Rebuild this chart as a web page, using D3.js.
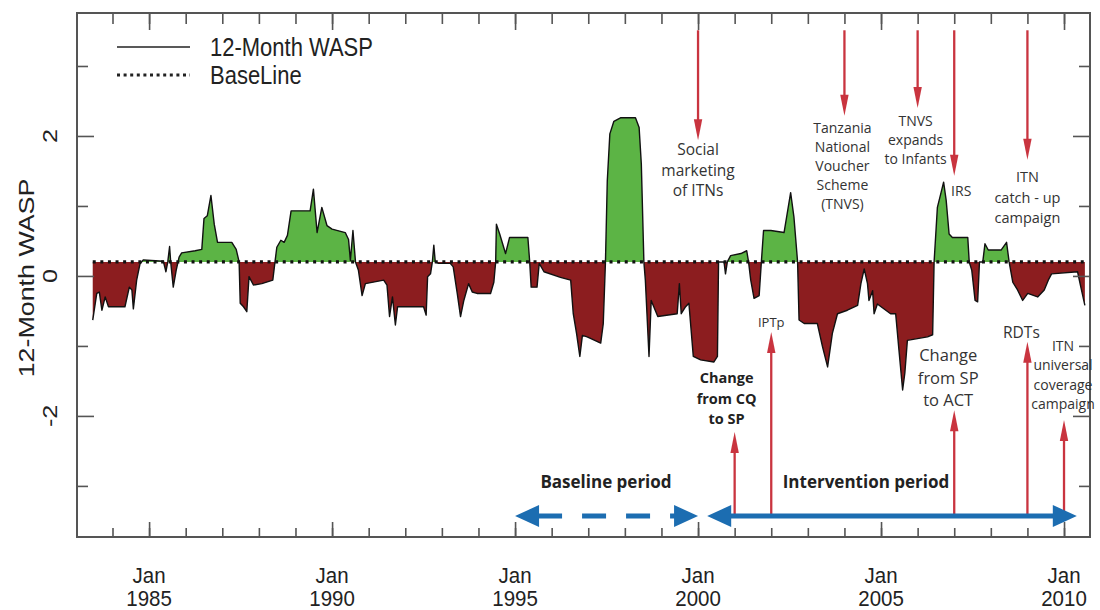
<!DOCTYPE html>
<html><head><meta charset="utf-8">
<script src="https://cdn.jsdelivr.net/npm/d3@7"></script>
<style>body{margin:0;background:#fff}svg{display:block}</style>
</head><body>
<svg id="c" width="1100" height="610"></svg>
<script>
// ---------------- DATA ----------------
const months = [1983.46,1983.57,1983.64,1983.71,1983.80,1983.89,1984.34,1984.46,1984.53,1984.57,1984.66,1984.75,1984.84,
1985.39,1985.46,1985.51,1985.56,1985.59,1985.66,1985.74,1985.82,1985.89,1986.26,1986.44,1986.50,1986.59,1986.69,1986.78,1986.87,
1987.26,1987.38,1987.46,1987.49,1987.58,1987.67,1987.73,1987.85,1988.08,1988.38,1988.44,1988.49,1988.60,1988.69,1988.78,1988.88,
1989.40,1989.49,1989.59,1989.72,1989.86,1990.00,1990.36,1990.45,1990.50,1990.57,1990.64,1990.72,1990.82,1990.91,
1991.41,1991.50,1991.57,1991.65,1991.73,1991.79,1992.50,1992.57,1992.61,1992.69,1992.74,1992.78,1992.82,1992.91,
1993.23,1993.31,1993.42,1993.51,1993.60,1993.73,1993.83,1993.96,1994.33,1994.42,1994.47,1994.49,1994.58,1994.74,1994.85,
1995.35,1995.40,1995.44,1995.60,1995.66,1995.79,1996.24,1996.52,1996.59,1996.68,1996.77,1996.84,1996.97,
1997.34,1997.41,1997.47,1997.52,1997.59,1997.70,1997.88,1998.29,1998.39,1998.45,1998.52,1998.56,1998.66,1998.72,1998.79,1998.90,
1999.43,1999.49,1999.54,1999.66,1999.75,1999.87,2000.07,2000.43,2000.53,2000.56,2000.71,2000.75,2000.80,2000.89,
2001.17,2001.33,2001.38,2001.44,2001.53,2001.67,2001.73,2001.79,2001.99,2002.35,2002.42,2002.53,2002.62,2002.72,2002.76,2002.90,
2003.26,2003.40,2003.54,2003.67,2003.81,2004.08,2004.36,2004.45,2004.54,2004.63,2004.67,2004.77,2004.81,2004.90,
2005.26,2005.40,2005.49,2005.59,2005.65,2005.72,2006.27,2006.41,2006.45,2006.54,2006.64,2006.71,2006.78,2006.86,2006.95,
2007.37,2007.41,2007.48,2007.57,2007.64,2007.69,2007.78,2007.84,2007.93,2008.28,2008.43,2008.50,2008.60,2008.73,2008.87,
2009.01,2009.28,2009.46,2009.57,2009.66,2010.37,2010.46,2010.57];
const wasp = [-0.63,-0.25,-0.23,-0.49,-0.30,-0.44,-0.44,-0.16,-0.20,-0.47,-0.06,0.17,0.23,
0.21,0.06,0.20,0.42,0.20,-0.16,0.08,0.27,0.33,0.36,0.38,0.82,0.86,1.15,0.74,0.48,
0.48,0.38,0.20,-0.39,-0.44,-0.51,-0.01,-0.13,-0.11,-0.06,0.20,0.41,0.51,0.48,0.58,0.93,
0.93,1.24,0.62,0.98,0.72,0.67,0.62,0.52,0.22,0.65,0.20,0.08,-0.28,-0.11,
-0.06,-0.13,-0.58,-0.30,-0.70,-0.44,-0.44,-0.56,-0.01,0.03,0.20,0.44,0.20,0.18,
0.18,0.13,-0.25,-0.58,-0.35,-0.11,-0.23,-0.25,-0.25,-0.09,0.20,0.74,0.60,0.32,0.55,
0.55,0.20,-0.16,-0.16,0.18,0.06,-0.02,-0.06,-0.54,-0.82,-1.15,-0.85,-0.87,
-0.96,-0.68,0.20,1.36,2.03,2.21,2.26,2.26,2.12,1.60,0.20,-0.06,-1.15,-0.35,-0.44,-0.58,
-0.54,-0.11,-0.54,-0.44,-0.39,-1.15,-1.20,-1.23,-1.15,0.20,0.20,0.03,0.20,0.29,
0.32,0.36,0.20,-0.06,-0.32,-0.28,0.20,0.65,0.65,0.62,0.84,1.19,0.84,0.20,-0.63,-0.68,
-0.68,-1.01,-1.30,-0.82,-0.54,-0.49,-0.42,-0.11,0.10,-0.11,-0.35,-0.21,-0.54,-0.40,
-0.54,-0.54,-1.06,-1.63,-1.39,-0.92,-0.87,-0.84,0.20,0.98,1.19,1.34,1.08,0.60,0.55,
0.55,0.20,0.08,-0.35,-0.37,0.20,0.20,0.46,0.37,0.37,0.48,0.20,-0.09,-0.20,-0.35,
-0.25,-0.30,-0.20,-0.06,0.03,0.06,-0.16,-0.42];
const baselineValue = 0.2;
const xMajorYears = [1985,1990,1995,2000,2005,2010];
const xMinorYears = d3.range(1984, 2011);
const xTickMonth = "Jan";
const yMajorTicks = [-2,0,2];
const yMinorTicks = [-3,-1,1,3];
const yTitle = "12-Month WASP";
const legendLabels = ["12-Month WASP","BaseLine"];

const topEventYears = [2000,2004,2006,2007,2009];
const topEventLabels = [["Social","marketing","of ITNs"],["Tanzania","National","Voucher","Scheme","(TNVS)"],["TNVS","expands","to Infants"],["IRS"],["ITN","catch - up","campaign"]];
const topArrowTips = [1.94,2.29,2.40,1.43,1.66];
const bottomEventYears = [2001,2002,2007,2009,2010];
const bottomEventLabels = [["Change","from CQ","to SP"],["IPTp"],["Change","from SP","to ACT"],["RDTs"],["ITN","universal","coverage","campaign"]];
const bottomArrowTips = [-2.23,-0.80,-1.92,-0.94,-2.06];
const periodNames = ["Baseline period","Intervention period"];
const periodStart = [1995.0, 2000.25];
const periodEnd = [2000.0, 2010.35];

// ---------------- LAYOUT / STYLE ----------------
const plot = {l:77, r:1090, t:13, b:537};
const GREEN = "#5cb445", RED = "#8c1d1f", ARROW_RED = "#c9343f", BLUE = "#1c6db1";
const AX = "#555";
const topArrowStart = 3.51, periodLevel = -3.43;
const topTextLayout = [
  {dx:0, y:155, step:20.5, size:15.5, weight:400},
  {dx:-2, y:133, step:19, size:14, weight:400},
  {dx:-2, y:126, step:19, size:14, weight:400},
  {dx:7, y:196, step:19, size:14, weight:400},
  {dx:0, y:182, step:20.5, size:14.5, weight:400}];
const bottomTextLayout = [
  {dx:-8, y:383, step:20.5, size:14.5, weight:700},
  {dx:0, y:327, step:19, size:13, weight:400},
  {dx:-6, y:361, step:22.5, size:16.5, weight:400},
  {dx:-6, y:338, step:19, size:15.5, weight:400},
  {dx:-1, y:351, step:19.3, size:14, weight:400}];
const periodTextLayout = [{cx:606, y:488},{cx:866, y:488}];

const svg = d3.select("#c");
const x = d3.scaleLinear().domain([1983.03, 2010.71]).range([plot.l, plot.r]);
const y = d3.scaleLinear().domain([-3.73, 3.757]).range([plot.b, plot.t]);
const series = months.map((t,i)=>({t, v:wasp[i]}));
const yb = y(baselineValue);

const defs = svg.append("defs");
defs.append("clipPath").attr("id","above").append("rect")
  .attr("x",plot.l).attr("y",plot.t).attr("width",plot.r-plot.l).attr("height",yb-plot.t);
defs.append("clipPath").attr("id","below").append("rect")
  .attr("x",plot.l).attr("y",yb).attr("width",plot.r-plot.l).attr("height",plot.b-yb);

const area = d3.area().x(d=>x(d.t)).y0(yb).y1(d=>y(d.v));
svg.append("path").datum(series).attr("d",area).attr("fill",GREEN).attr("clip-path","url(#above)");
svg.append("path").datum(series).attr("d",area).attr("fill",RED).attr("clip-path","url(#below)");
svg.append("path").datum(series).attr("d",d3.line().x(d=>x(d.t)).y(d=>y(d.v)))
  .attr("fill","none").attr("stroke","#111").attr("stroke-width",1.4).attr("stroke-linejoin","round");
svg.append("line").attr("x1",x(months[0])).attr("x2",x(months[months.length-1]))
  .attr("y1",yb).attr("y2",yb).attr("stroke","#111").attr("stroke-width",3.2).attr("stroke-dasharray","3,4.6");

// axes ticks (inward, all four sides)
function styleAxis(g){ g.select(".domain").remove(); g.selectAll(".tick line").attr("stroke",AX).attr("stroke-width",1.6); g.selectAll("text").remove(); }
svg.append("g").attr("transform",`translate(0,${plot.b})`).call(d3.axisBottom(x).tickValues(xMinorYears).tickSize(-9).tickFormat("")).call(styleAxis);
svg.append("g").attr("transform",`translate(0,${plot.b})`).call(d3.axisBottom(x).tickValues(xMajorYears).tickSize(-15).tickFormat("")).call(styleAxis);
svg.append("g").attr("transform",`translate(0,${plot.t})`).call(d3.axisTop(x).tickValues(xMinorYears).tickSize(-11).tickFormat("")).call(styleAxis);
svg.append("g").attr("transform",`translate(0,${plot.t})`).call(d3.axisTop(x).tickValues(xMajorYears).tickSize(-17).tickFormat("")).call(styleAxis);
svg.append("g").attr("transform",`translate(${plot.l},0)`).call(d3.axisLeft(y).tickValues(yMinorTicks).tickSize(-11).tickFormat("")).call(styleAxis);
svg.append("g").attr("transform",`translate(${plot.l},0)`).call(d3.axisLeft(y).tickValues(yMajorTicks).tickSize(-17).tickFormat("")).call(styleAxis);
svg.append("g").attr("transform",`translate(${plot.r},0)`).call(d3.axisRight(y).tickValues(yMinorTicks).tickSize(-11).tickFormat("")).call(styleAxis);
svg.append("g").attr("transform",`translate(${plot.r},0)`).call(d3.axisRight(y).tickValues(yMajorTicks).tickSize(-17).tickFormat("")).call(styleAxis);
svg.append("rect").attr("x",plot.l).attr("y",plot.t).attr("width",plot.r-plot.l).attr("height",plot.b-plot.t)
  .attr("fill","none").attr("stroke",AX).attr("stroke-width",2);

const LAB = "'Liberation Sans', Arial, Helvetica, sans-serif";
// x labels
const xl = svg.append("g").attr("font-family",LAB).attr("font-size",20.5).attr("fill","#222").attr("text-anchor","middle");
xMajorYears.forEach(yr=>{
  xl.append("text").attr("transform",`translate(${x(yr)},583) scale(1,1.1)`).text(xTickMonth);
  xl.append("text").attr("transform",`translate(${x(yr)},606) scale(1,1.1)`).text(yr);
});
// y labels
const yl = svg.append("g").attr("font-family",LAB).attr("font-size",21).attr("fill","#222").attr("text-anchor","middle");
yMajorTicks.forEach(v=>{
  yl.append("text").attr("transform",`translate(57,${y(v)}) scale(1,1.2) rotate(-90)`).text(v);
});
yl.append("text").attr("font-size",22).attr("transform",`translate(34,278) scale(1,1.22) rotate(-90)`).text(yTitle);

// legend
svg.append("line").attr("x1",117).attr("x2",190).attr("y1",47).attr("y2",47).attr("stroke","#222").attr("stroke-width",1.4);
svg.append("line").attr("x1",117).attr("x2",190).attr("y1",75).attr("y2",75).attr("stroke","#222").attr("stroke-width",3).attr("stroke-dasharray","3,3.6");
const lg = svg.append("g").attr("font-family",LAB).attr("font-size",22).attr("fill","#222");
lg.append("text").attr("transform","translate(210,56) scale(1,1.2)").text(legendLabels[0]);
lg.append("text").attr("transform","translate(210,84) scale(1,1.2)").text(legendLabels[1]);

// red arrows
const ANN = "'Open Sans', 'Noto Sans', sans-serif";
function redArrow(xp, y0, y1){
  const dir = y1 > y0 ? 1 : -1, hl = 21, hw = 4.2;
  svg.append("line").attr("x1",xp).attr("x2",xp).attr("y1",y0).attr("y2",y1 - dir*hl*0.6)
    .attr("stroke",ARROW_RED).attr("stroke-width",2.3);
  svg.append("path").attr("d",`M${xp-hw},${y1-dir*hl}L${xp+hw},${y1-dir*hl}L${xp},${y1}Z`).attr("fill",ARROW_RED);
}
function labelBlock(cx, lay, lines){
  const g = svg.append("g").attr("font-family",ANN).attr("font-size",lay.size).attr("font-weight",lay.weight)
    .attr("fill", lay.weight>500 ? "#222" : "#333").attr("text-anchor","middle");
  lines.forEach((s,i)=> g.append("text").attr("x",cx).attr("y",lay.y + i*lay.step).text(s));
}
topEventYears.forEach((yr,i)=>{
  redArrow(x(yr), y(topArrowStart), y(topArrowTips[i]));
  labelBlock(x(yr)+topTextLayout[i].dx, topTextLayout[i], topEventLabels[i]);
});
bottomEventYears.forEach((yr,i)=>{
  redArrow(x(yr), y(periodLevel), y(bottomArrowTips[i]));
  labelBlock(x(yr)+bottomTextLayout[i].dx, bottomTextLayout[i], bottomEventLabels[i]);
});

// blue period arrows
function head(tipX, yy, dir){
  const L = 24, Hh = 11;
  svg.append("path").attr("d",`M${tipX},${yy}L${tipX - dir*L},${yy-Hh}L${tipX - dir*L},${yy+Hh}Z`).attr("fill",BLUE);
}
const py = y(periodLevel);
periodNames.forEach((nm,i)=>{
  const a = x(periodStart[i]), b = x(periodEnd[i]);
  svg.append("line").attr("x1",a+23).attr("x2",b-23).attr("y1",py).attr("y2",py)
    .attr("stroke",BLUE).attr("stroke-width",5).attr("stroke-dasharray", i===0 ? "24,20" : null);
  head(a, py, -1); head(b, py, 1);
  svg.append("text").attr("x",periodTextLayout[i].cx).attr("y",periodTextLayout[i].y)
    .attr("font-family",ANN).attr("font-size",17).attr("font-weight",700).attr("fill","#222")
    .attr("text-anchor","middle").text(nm);
});
</script>
</body></html>
